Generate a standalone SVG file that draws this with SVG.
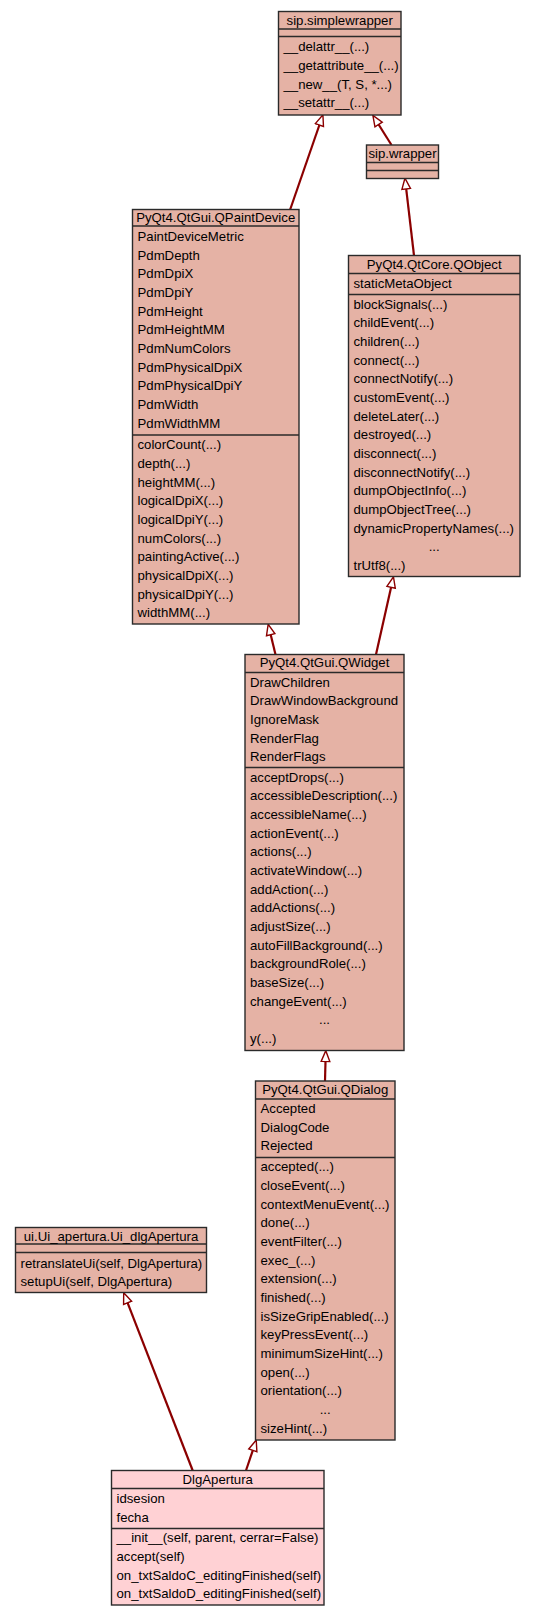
<svg xmlns="http://www.w3.org/2000/svg" width="536" height="1616" viewBox="0 0 536 1616">
<style>
text{font-family:"Liberation Sans",Arial,sans-serif;font-size:13.2px;fill:#000}
.c{text-anchor:middle}
.box{fill:#e5b2a5;stroke:#2a2a2a;stroke-width:1.4}
.box2{fill:#ffd1d4;stroke:#2a2a2a;stroke-width:1.4}
.sep{stroke:#2a2a2a;stroke-width:1.4}
.e{fill:none;stroke:#8b0000;stroke-width:2.2}
</style>
<defs>
<marker id="inh" markerUnits="userSpaceOnUse" markerWidth="14" markerHeight="12" refX="0" refY="4" orient="auto" viewBox="-1 -1 13 10">
<path d="M0,0 L10,4 L0,8 Z" fill="#fff" stroke="#8b0000" stroke-width="1.3"/>
</marker>
</defs>
<rect width="536" height="1616" fill="#fff"/>
<g id="connectors">
<line class="e" x1="290" y1="210" x2="319.4" y2="125" marker-end="url(#inh)"/>
<line class="e" x1="391.5" y1="145" x2="378.6" y2="124.5" marker-end="url(#inh)"/>
<line class="e" x1="414" y1="255.5" x2="406.2" y2="188.9" marker-end="url(#inh)"/>
<line class="e" x1="275.5" y1="654.5" x2="270.7" y2="634.7" marker-end="url(#inh)"/>
<line class="e" x1="376" y1="654.5" x2="391.1" y2="587.3" marker-end="url(#inh)"/>
<line class="e" x1="325" y1="1081" x2="325.5" y2="1061.5" marker-end="url(#inh)"/>
<line class="e" x1="246" y1="1470.5" x2="252.8" y2="1450.3" marker-end="url(#inh)"/>
<line class="e" x1="192.7" y1="1470.5" x2="127.6" y2="1302.8" marker-end="url(#inh)"/>
</g>
<g id="sip_simplewrapper">
<rect class="box" x="278.5" y="11.5" width="122.5" height="103.5"/>
<line class="sep" x1="278.5" y1="29" x2="401" y2="29"/>
<line class="sep" x1="278.5" y1="36.5" x2="401" y2="36.5"/>
<text class="c" x="339.7" y="25">sip.simplewrapper</text>
<text x="283.5" y="51.3">__delattr__(...)</text>
<text x="283.5" y="70">__getattribute__(...)</text>
<text x="283.5" y="88.6">__new__(T, S, *...)</text>
<text x="283.5" y="107.3">__setattr__(...)</text>
</g>
<g id="sip_wrapper">
<rect class="box" x="366.5" y="145" width="72" height="33.5"/>
<line class="sep" x1="366.5" y1="162.5" x2="438.5" y2="162.5"/>
<line class="sep" x1="366.5" y1="170.5" x2="438.5" y2="170.5"/>
<text class="c" x="402.5" y="158.3">sip.wrapper</text>
</g>
<g id="QPaintDevice">
<rect class="box" x="132.5" y="209.5" width="166.5" height="414.5"/>
<line class="sep" x1="132.5" y1="226" x2="299" y2="226"/>
<line class="sep" x1="132.5" y1="435" x2="299" y2="435"/>
<text class="c" x="215.7" y="222">PyQt4.QtGui.QPaintDevice</text>
<text x="137.5" y="240.8">PaintDeviceMetric</text>
<text x="137.5" y="259.5">PdmDepth</text>
<text x="137.5" y="278.1">PdmDpiX</text>
<text x="137.5" y="296.8">PdmDpiY</text>
<text x="137.5" y="315.5">PdmHeight</text>
<text x="137.5" y="334.2">PdmHeightMM</text>
<text x="137.5" y="352.8">PdmNumColors</text>
<text x="137.5" y="371.5">PdmPhysicalDpiX</text>
<text x="137.5" y="390.2">PdmPhysicalDpiY</text>
<text x="137.5" y="408.8">PdmWidth</text>
<text x="137.5" y="427.5">PdmWidthMM</text>
<text x="137.5" y="449.2">colorCount(...)</text>
<text x="137.5" y="467.9">depth(...)</text>
<text x="137.5" y="486.5">heightMM(...)</text>
<text x="137.5" y="505.2">logicalDpiX(...)</text>
<text x="137.5" y="523.9">logicalDpiY(...)</text>
<text x="137.5" y="542.5">numColors(...)</text>
<text x="137.5" y="561.2">paintingActive(...)</text>
<text x="137.5" y="579.9">physicalDpiX(...)</text>
<text x="137.5" y="598.6">physicalDpiY(...)</text>
<text x="137.5" y="617.2">widthMM(...)</text>
</g>
<g id="QObject">
<rect class="box" x="348.5" y="255.5" width="171.5" height="321"/>
<line class="sep" x1="348.5" y1="273.5" x2="520" y2="273.5"/>
<line class="sep" x1="348.5" y1="294.5" x2="520" y2="294.5"/>
<text class="c" x="434.2" y="268.5">PyQt4.QtCore.QObject</text>
<text x="353.5" y="287.7">staticMetaObject</text>
<text x="353.5" y="308.5">blockSignals(...)</text>
<text x="353.5" y="327.2">childEvent(...)</text>
<text x="353.5" y="345.8">children(...)</text>
<text x="353.5" y="364.5">connect(...)</text>
<text x="353.5" y="383.2">connectNotify(...)</text>
<text x="353.5" y="401.8">customEvent(...)</text>
<text x="353.5" y="420.5">deleteLater(...)</text>
<text x="353.5" y="439.2">destroyed(...)</text>
<text x="353.5" y="457.9">disconnect(...)</text>
<text x="353.5" y="476.5">disconnectNotify(...)</text>
<text x="353.5" y="495.2">dumpObjectInfo(...)</text>
<text x="353.5" y="513.9">dumpObjectTree(...)</text>
<text x="353.5" y="532.5">dynamicPropertyNames(...)</text>
<text class="c" x="434.2" y="551.2">...</text>
<text x="353.5" y="569.9">trUtf8(...)</text>
</g>
<g id="QWidget">
<rect class="box" x="245" y="654.5" width="159" height="396"/>
<line class="sep" x1="245" y1="672.5" x2="404" y2="672.5"/>
<line class="sep" x1="245" y1="767.5" x2="404" y2="767.5"/>
<text class="c" x="324.5" y="667">PyQt4.QtGui.QWidget</text>
<text x="250" y="686.6">DrawChildren</text>
<text x="250" y="705.3">DrawWindowBackground</text>
<text x="250" y="724">IgnoreMask</text>
<text x="250" y="742.6">RenderFlag</text>
<text x="250" y="761.3">RenderFlags</text>
<text x="250" y="781.5">acceptDrops(...)</text>
<text x="250" y="800.2">accessibleDescription(...)</text>
<text x="250" y="818.8">accessibleName(...)</text>
<text x="250" y="837.5">actionEvent(...)</text>
<text x="250" y="856.2">actions(...)</text>
<text x="250" y="874.8">activateWindow(...)</text>
<text x="250" y="893.5">addAction(...)</text>
<text x="250" y="912.2">addActions(...)</text>
<text x="250" y="930.9">adjustSize(...)</text>
<text x="250" y="949.5">autoFillBackground(...)</text>
<text x="250" y="968.2">backgroundRole(...)</text>
<text x="250" y="986.9">baseSize(...)</text>
<text x="250" y="1005.5">changeEvent(...)</text>
<text class="c" x="324.5" y="1024.2">...</text>
<text x="250" y="1042.9">y(...)</text>
</g>
<g id="QDialog">
<rect class="box" x="255.5" y="1081" width="139.5" height="359"/>
<line class="sep" x1="255.5" y1="1099" x2="395" y2="1099"/>
<line class="sep" x1="255.5" y1="1157.5" x2="395" y2="1157.5"/>
<text class="c" x="325.2" y="1094">PyQt4.QtGui.QDialog</text>
<text x="260.5" y="1113">Accepted</text>
<text x="260.5" y="1131.7">DialogCode</text>
<text x="260.5" y="1150.3">Rejected</text>
<text x="260.5" y="1171.3">accepted(...)</text>
<text x="260.5" y="1190">closeEvent(...)</text>
<text x="260.5" y="1208.6">contextMenuEvent(...)</text>
<text x="260.5" y="1227.3">done(...)</text>
<text x="260.5" y="1246">eventFilter(...)</text>
<text x="260.5" y="1264.6">exec_(...)</text>
<text x="260.5" y="1283.3">extension(...)</text>
<text x="260.5" y="1302">finished(...)</text>
<text x="260.5" y="1320.7">isSizeGripEnabled(...)</text>
<text x="260.5" y="1339.3">keyPressEvent(...)</text>
<text x="260.5" y="1358">minimumSizeHint(...)</text>
<text x="260.5" y="1376.7">open(...)</text>
<text x="260.5" y="1395.3">orientation(...)</text>
<text class="c" x="325.2" y="1414">...</text>
<text x="260.5" y="1432.7">sizeHint(...)</text>
</g>
<g id="Ui_dlgApertura">
<rect class="box" x="15.5" y="1227.5" width="191" height="65"/>
<line class="sep" x1="15.5" y1="1244" x2="206.5" y2="1244"/>
<line class="sep" x1="15.5" y1="1252.5" x2="206.5" y2="1252.5"/>
<text class="c" x="111" y="1240.5">ui.Ui_apertura.Ui_dlgApertura</text>
<text x="20.5" y="1267.5">retranslateUi(self, DlgApertura)</text>
<text x="20.5" y="1286.2">setupUi(self, DlgApertura)</text>
</g>
<g id="DlgApertura">
<rect class="box2" x="111.5" y="1470.5" width="212.5" height="134.5"/>
<line class="sep" x1="111.5" y1="1488.5" x2="324" y2="1488.5"/>
<line class="sep" x1="111.5" y1="1528.5" x2="324" y2="1528.5"/>
<text class="c" x="217.7" y="1484">DlgApertura</text>
<text x="116.5" y="1502.8">idsesion</text>
<text x="116.5" y="1521.5">fecha</text>
<text x="116.5" y="1542.4">__init__(self, parent, cerrar=False)</text>
<text x="116.5" y="1561.1">accept(self)</text>
<text x="116.5" y="1579.7">on_txtSaldoC_editingFinished(self)</text>
<text x="116.5" y="1598.4">on_txtSaldoD_editingFinished(self)</text>
</g>
</svg>
